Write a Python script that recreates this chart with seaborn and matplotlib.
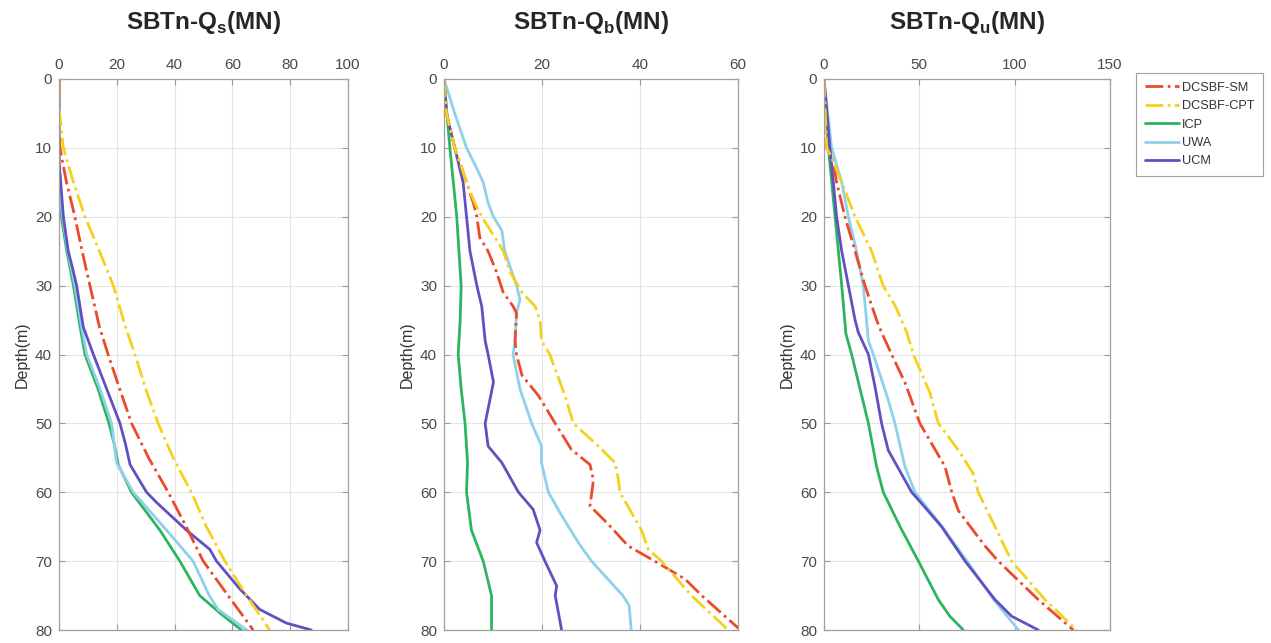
import numpy as np
import pandas as pd
import matplotlib
matplotlib.use("Agg")
import matplotlib.pyplot as plt
import seaborn as sns

# ---------------- data ----------------
methods = ["DCSBF-SM", "DCSBF-CPT", "ICP", "UWA", "UCM"]
titles = [r"SBTn-$\mathbf{Q}_{\mathbf{s}}$(MN)", r"SBTn-$\mathbf{Q}_{\mathbf{b}}$(MN)", r"SBTn-$\mathbf{Q}_{\mathbf{u}}$(MN)"]
x_limits = [100, 60, 150]
x_ticks = [[0, 20, 40, 60, 80, 100], [0, 20, 40, 60], [0, 50, 100, 150]]
y_ticks = [0, 10, 20, 30, 40, 50, 60, 70, 80]

# Panel 1: shaft capacity Qs
qs_sm_depth = [0, 10, 15, 20, 25, 30, 36, 40, 45, 50, 55, 60, 65, 70, 75, 80]
qs_sm_val = [0, 0.3, 2.6, 5.5, 8, 10.7, 14, 17, 21, 25.1, 31, 37.8, 44, 49.9, 58.5, 67.2]
qs_cpt_depth = [0, 4, 10, 15, 20, 25, 30, 36, 40, 45, 50, 55, 60, 65, 70, 75, 80]
qs_cpt_val = [0, 0, 1.5, 5, 9, 14, 18.8, 23, 26.3, 30, 34.3, 39.5, 45.8, 51, 57.4, 64.9, 72.9]
qs_icp_depth = [0, 16, 20, 25, 30, 36, 40, 45, 50, 53, 56, 60, 65.5, 70, 75, 77.5, 80]
qs_icp_val = [0, 0, 0.8, 2.7, 5, 7.3, 9, 13.5, 17.3, 19.1, 20.5, 25.1, 34.9, 41.8, 48.7, 55.6, 63.1]
qs_uwa_depth = [0, 15, 20, 25, 30, 36, 40, 45, 50, 55.7, 60, 65.5, 70, 75, 77, 80]
qs_uwa_val = [0, 0, 1.2, 3, 5.5, 7.8, 9.6, 14.2, 18.2, 19.9, 25.7, 37.2, 46.4, 52, 55, 65]
qs_ucm_depth = [0, 12, 15, 20, 25, 28, 30, 36, 40, 45, 50, 53, 56, 60, 61.5, 65.5, 68.3, 70, 74, 77, 79, 80]
qs_ucm_val = [0, 0, 0.6, 1.5, 3.2, 5, 6.1, 8.4, 11.9, 16.5, 21.1, 23, 24.6, 30.3, 33.8, 44.1, 52.2, 54.5, 62.5, 69.4, 78.7, 87.3]

# Panel 2: base capacity Qb
qb_sm_depth = [0, 5, 10, 15, 18, 20, 23, 25, 28, 31, 33, 34, 38, 40, 43, 46, 50, 53.8, 56, 58.2, 62, 64.4, 67.8, 70, 72.6, 75, 80]
qb_sm_val = [0, 0.5, 2.2, 4.6, 6, 6.7, 7.3, 9, 10.7, 12.1, 14.1, 14.8, 14.5, 14.8, 15.9, 19.3, 22.7, 26, 29.8, 30.5, 29.8, 33.2, 37.6, 43, 49.2, 52.6, 60.5]
qb_cpt_depth = [0, 5, 10, 15, 18, 20, 23, 25, 28, 31, 33, 35, 38, 40, 46, 50, 53.3, 55.7, 58.2, 60, 65.5, 68.3, 70, 75, 80]
qb_cpt_val = [0, 0.5, 2.2, 4.6, 6.3, 7.7, 10.4, 12.1, 13.5, 15.9, 18.6, 19.6, 19.9, 21.6, 24.7, 26.4, 31.5, 34.9, 35.6, 35.9, 40.3, 41.7, 44.4, 50.5, 58]
qb_icp_depth = [0, 10, 20, 30, 35, 40, 45, 50, 55.7, 60, 65.5, 70, 75, 80]
qb_icp_val = [0, 1.2, 2.6, 3.5, 3.3, 2.9, 3.5, 4.3, 4.8, 4.6, 5.6, 8, 9.7, 9.7]
qb_uwa_depth = [0, 5, 10, 13, 15, 18, 20, 22, 25, 30, 32, 34, 38, 40, 45, 50, 53.3, 55.7, 60, 63, 67.3, 70, 75, 76.5, 80]
qb_uwa_val = [0, 2.2, 4.6, 6.7, 8, 9, 10.1, 11.8, 12.4, 14.8, 15.5, 14.8, 14.5, 14.1, 15.5, 17.9, 19.9, 19.9, 21.3, 23.7, 27.4, 30.1, 36.5, 37.8, 38.2]
qb_ucm_depth = [0, 5, 10, 15, 20, 25, 30, 33, 38, 40, 44, 50, 53.3, 55.7, 60, 62.5, 65.5, 67.3, 70, 73.6, 75, 80]
qb_ucm_val = [0, 0.5, 2.2, 3.9, 4.6, 5.3, 6.7, 7.7, 8.4, 9, 10.1, 8.4, 9, 11.8, 15.2, 18.2, 19.6, 18.9, 20.6, 23, 22.7, 24]

# Panel 3: total capacity Qu
qu_sm_depth = [0, 10, 12, 15, 20, 25, 30, 35, 36.8, 40, 44.1, 50, 56.3, 60, 62.7, 67.8, 70, 75.6, 80]
qu_sm_val = [0, 1.4, 4.9, 6.6, 11, 16.3, 21.5, 27.6, 30.2, 35.5, 42.5, 50.3, 63.5, 67, 70.5, 84.4, 91.4, 112.4, 130.8]
qu_cpt_depth = [0, 10, 12, 15, 20, 25, 30, 33, 36.8, 40, 45.6, 50, 53.9, 57.3, 60, 65, 70, 75.6, 80]
qu_cpt_val = [0, 1.4, 4.9, 9.3, 16.3, 25, 31, 37.5, 43.4, 46.9, 55.6, 60, 70.5, 78.3, 80.9, 89.7, 98.4, 115.9, 132.5]
qu_icp_depth = [0, 10, 20, 30, 37, 40, 50, 56.3, 60, 65, 70, 75.6, 78, 80]
qu_icp_val = [0, 2.3, 5.8, 9.3, 11.5, 14.5, 23.3, 27.6, 31.1, 39.9, 49.5, 60, 66, 73.1]
qu_uwa_depth = [0, 10, 15, 20, 25, 30, 38, 40, 46.6, 50, 56.3, 60, 65, 70, 75.6, 80]
qu_uwa_val = [0, 4, 9.3, 12.8, 17.1, 20.6, 23.3, 25.9, 33.7, 37.2, 42.5, 47.7, 62, 75, 89, 102]
qu_ucm_depth = [0, 10, 15, 20, 25, 30, 35, 36.8, 40, 44.6, 50, 53.9, 60, 62.2, 65, 70, 75.6, 78, 80]
qu_ucm_val = [0, 3.1, 4.9, 6.6, 9.3, 12.8, 16.3, 18, 23.3, 26.7, 30.2, 33.7, 46, 53, 61.7, 74, 89.7, 98.4, 112.4]

panels = [
    [(qs_sm_depth, qs_sm_val), (qs_cpt_depth, qs_cpt_val), (qs_icp_depth, qs_icp_val), (qs_uwa_depth, qs_uwa_val), (qs_ucm_depth, qs_ucm_val)],
    [(qb_sm_depth, qb_sm_val), (qb_cpt_depth, qb_cpt_val), (qb_icp_depth, qb_icp_val), (qb_uwa_depth, qb_uwa_val), (qb_ucm_depth, qb_ucm_val)],
    [(qu_sm_depth, qu_sm_val), (qu_cpt_depth, qu_cpt_val), (qu_icp_depth, qu_icp_val), (qu_uwa_depth, qu_uwa_val), (qu_ucm_depth, qu_ucm_val)],
]

# ---------------- style ----------------
colors = {"DCSBF-SM": "#ec4a2a", "DCSBF-CPT": "#f3d21e", "ICP": "#2cb55e", "UWA": "#8fd0ea", "UCM": "#6150c2"}
styles = {"DCSBF-SM": "-.", "DCSBF-CPT": "-.", "ICP": "-", "UWA": "-", "UCM": "-"}
widths = {"DCSBF-SM": 2.0, "DCSBF-CPT": 2.0, "ICP": 2.0, "UWA": 2.0, "UCM": 2.0}
draw_order = ["ICP", "UWA", "UCM", "DCSBF-SM", "DCSBF-CPT"]

sns.set_style("white")
plt.rcParams["font.family"] = ["Liberation Sans", "DejaVu Sans"]
plt.rcParams["mathtext.fontset"] = "custom"
plt.rcParams["mathtext.rm"] = "Liberation Sans"
plt.rcParams["mathtext.bf"] = "Liberation Sans:bold"

fig = plt.figure(figsize=(12.71, 6.43), dpi=100)
W, H = 1271, 643
ax_px = [(59, 289), (444, 294), (824, 286)]
top_px, bot_px = 79, 630

axes = []
for i, (lx, wd) in enumerate(ax_px):
    ax = fig.add_axes([lx / W, 1 - bot_px / H, wd / W, (bot_px - top_px) / H])
    axes.append(ax)
    series = panels[i]
    for m in draw_order:
        k = methods.index(m)
        d, v = series[k]
        df = pd.DataFrame({"depth": d, "value": v})
        sns.lineplot(data=df, x="value", y="depth", ax=ax, orient="y", estimator=None,
                     color=colors[m], linestyle=styles[m], linewidth=widths[m], label=m)
    ax.set_xlim(0, x_limits[i])
    ax.set_ylim(80, 0)
    ax.set_xticks(x_ticks[i])
    ax.set_yticks(y_ticks)
    ax.xaxis.tick_top()
    ax.xaxis.set_label_position("top")
    ax.set_xlabel("")
    ax.set_ylabel("Depth(m)", fontsize=11.5, color="#333333", labelpad=4)
    ax.grid(True, color="#e4e4e4", linewidth=0.8)
    ax.tick_params(axis="both", direction="in", length=4, width=0.8, colors="#9a9a9a",
                   labelcolor="#4a4a4a", labelsize=11, pad=5, top=True, bottom=True, left=True, right=True)
    for s in ax.spines.values():
        s.set_color("#a0a0a0")
        s.set_linewidth(0.9)
    ax.set_title(titles[i], fontsize=17.5, fontweight="bold", y=1 + (top_px - 29) / (bot_px - top_px), pad=0)
    if ax.get_legend() is not None:
        ax.get_legend().remove()

handles, labels = axes[2].get_legend_handles_labels()
order = [labels.index(m) for m in methods]
leg = fig.legend([handles[j] for j in order], [labels[j] for j in order],
                 loc="upper left", bbox_to_anchor=(1136 / W, 1 - 73 / H), borderaxespad=0,
                 fontsize=9.2, frameon=True, fancybox=False, edgecolor="#8a8a8a",
                 handlelength=2.7, borderpad=0.7, labelspacing=0.5, handletextpad=0.2)
leg.get_frame().set_linewidth(0.8)
for t in leg.get_texts():
    t.set_color("#333333")

fig.savefig("out.png", dpi=100)
